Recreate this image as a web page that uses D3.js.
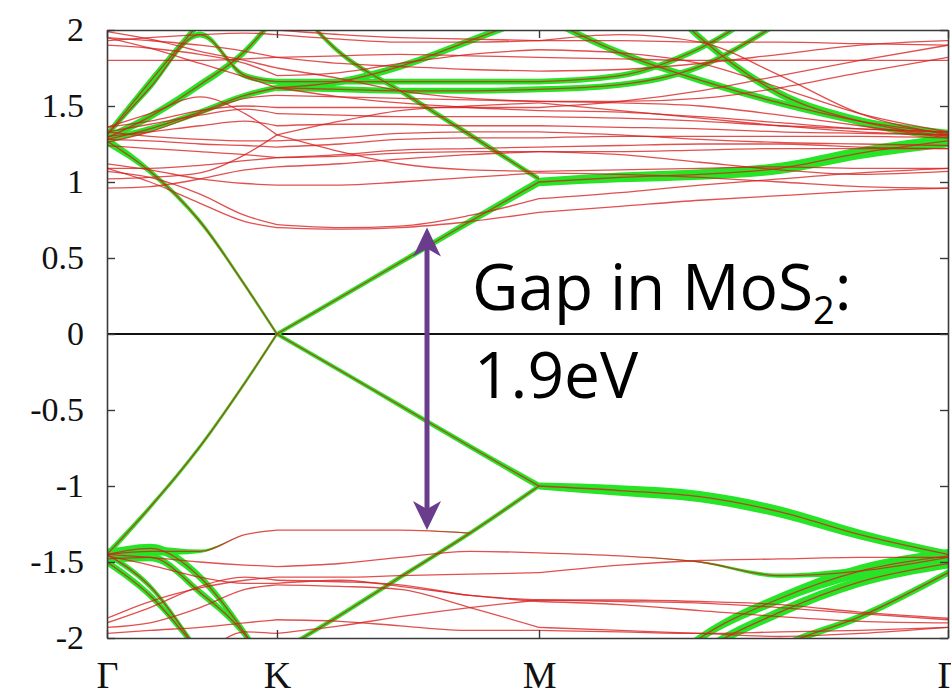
<!DOCTYPE html>
<html>
<head>
<meta charset="utf-8">
<script src="https://cdn.jsdelivr.net/npm/d3@7"></script>
<style>
  body { margin: 0; background: #fff; }
</style>
</head>
<body>
<div id="canvas"></div>
<script>
"use strict"

/* k-path sample points (fraction of the path) and high-symmetry points */
const kGrid = [0, 0.0511, 0.1106, 0.1641, 0.2021, 0.2771, 0.3484, 0.4316, 0.5137, 0.6100, 0.7051, 0.8002, 0.8954, 1.0];
const kTicks = [0, 0.2021, 0.5137, 1.0];
const kLabels = ["Γ", "K", "M", "Γ"];
const eTicks = [-2, -1.5, -1, -0.5, 0, 0.5, 1, 1.5, 2];
/* index ranges of the three path segments Γ-K, K-M, M-Γ */
const segments = [[0, 4], [4, 8], [8, 13]];

/* graphene-projected bands (energy in eV), with graphene weight */
const greenBands = [
    [1.27, 1.07, 0.74, 0.32, 0.0, 0.24, 0.47, 0.74, 1.0, 1.03, 1.05, 1.09, 1.19, 1.27],
    [-1.45, -1.14, -0.74, -0.32, 0.0, -0.24, -0.47, -0.74, -1.0, -1.03, -1.07, -1.17, -1.32, -1.45],
    [null, null, null, null, -2.1, -1.85, -1.60, -1.31, -1.0, null, null, null, null, null],
    [-1.45, -1.43, -1.43, -1.32, -1.29, -1.29, -1.29, -1.31, null, null, null, null, null, null],
    [-1.45, -1.41, -1.60, -1.97, -2.3, null, null, null, null, null, null, null, null, null],
    [-1.48, -1.47, -1.70, -1.98, -2.3, null, null, null, null, null, null, null, null, null],
    [-1.45, -1.66, -2.1, -2.5, -2.8, null, null, null, null, null, null, null, null, null],
    [-1.50, -1.72, -2.1, -2.5, -2.9, null, null, null, null, null, null, null, null, null],
    [null, null, null, null, null, null, null, null, -2.8, -2.45, -2.0, -1.74, -1.56, -1.46],
    [null, null, null, null, null, null, null, null, -2.9, -2.55, -2.1, -1.83, -1.63, -1.51],
    [null, null, null, null, null, null, null, null, -3.0, -2.8, -2.4, -2.06, -1.86, -1.57],
    [-1.45, -1.47, -1.50, -1.52, -1.53, -1.51, -1.47, -1.43, -1.44, -1.46, -1.50, -1.59, -1.56, -1.47],
    [1.31, 1.66, 2.05, 2.4, 2.8, null, null, null, null, 2.5, 1.95, 1.58, 1.40, 1.30],
    [1.29, 1.43, 1.64, 1.86, 2.1, 2.5, null, null, null, null, null, null, null, null],
    [null, null, null, null, 1.62, 1.66, 1.76, 1.93, 2.1, 1.85, 1.67, 1.52, 1.40, 1.32],
    [1.31, 1.62, 1.97, 1.70, 1.66, 1.66, 1.66, 1.66, 1.66, 1.70, 1.88, 2.2, 2.5, 2.8],
    [1.28, 1.35, 1.46, 1.57, 1.62, 1.61, 1.60, 1.60, 1.61, 1.64, 1.76, 2.05, 2.4, 2.8],
    [null, null, null, null, 2.3, 1.85, 1.60, 1.31, 1.02, null, null, null, null, null]
];
const greenWeights = [
    [0.7, 0.45, 0.38, 0.35, 0.32, 0.35, 0.4, 0.5, 0.6, 0.7, 0.75, 0.8, 0.85, 0.9],
    [0.55, 0.38, 0.35, 0.33, 0.32, 0.33, 0.35, 0.38, 0.5, 0.75, 0.8, 0.8, 0.7, 0.55],
    0.35,
    [0.85, 0.7, 0.25, 0, 0, 0, 0, 0.1, 0, 0, 0, 0, 0, 0],
    0.65,
    0.55,
    0.45,
    0.55,
    [0, 0, 0, 0, 0, 0, 0, 0, 0.4, 0.5, 0.6, 0.75, 0.9, 1.0],
    0.7,
    0.5,
    [0, 0, 0, 0, 0, 0, 0, 0, 0, 0, 0.1, 0.3, 0.6, 0.8],
    0.6,
    0.55,
    0.5,
    0.42,
    0.42,
    0.4
];

/* MoS2-like bands above the Dirac point */
const conductionBands = [
    [1.09, 1.00, 0.86, 0.74, 0.70, 0.69, 0.70, 0.74, 0.80, 0.84, 0.88, 0.91, 0.94, 0.96],
    [1.07, 1.03, 0.92, 0.78, 0.72, 0.70, 0.71, 0.78, 0.89, 0.93, 0.98, 1.02, 1.06, 1.09],
    [0.96, 0.97, 1.02, 1.08, 1.10, 1.12, 1.15, 1.18, 1.20, 1.18, 1.13, 1.08, 1.05, 1.07],
    [1.09, 1.09, 1.11, 1.14, 1.16, 1.18, 1.21, 1.22, 1.23, 1.24, 1.25, 1.25, 1.23, 1.22],
    [1.02, 1.03, 1.06, 1.18, 1.31, 1.40, 1.47, 1.50, 1.52, 1.47, 1.42, 1.37, 1.33, 1.31],
    [1.36, 1.45, 1.56, 1.45, 1.31, 1.20, 1.12, 1.08, 1.07, 1.08, 1.09, 1.10, 1.09, 1.09],
    [1.24, 1.22, 1.20, 1.18, 1.16, 1.17, 1.19, 1.20, 1.20, 1.20, 1.21, 1.22, 1.22, 1.22],
    [1.28, 1.27, 1.25, 1.24, 1.23, 1.25, 1.28, 1.29, 1.29, 1.30, 1.30, 1.30, 1.30, 1.29],
    [1.30, 1.33, 1.37, 1.40, 1.37, 1.38, 1.38, 1.37, 1.37, 1.36, 1.35, 1.33, 1.32, 1.31],
    [1.33, 1.38, 1.44, 1.48, 1.45, 1.44, 1.43, 1.43, 1.43, 1.42, 1.40, 1.37, 1.35, 1.33],
    [1.36, 1.40, 1.47, 1.50, 1.49, 1.49, 1.49, 1.49, 1.49, 1.53, 1.60, 1.70, 1.80, 1.90],
    [1.26, 1.33, 1.45, 1.55, 1.57, 1.56, 1.55, 1.54, 1.53, 1.53, 1.55, 1.62, 1.72, 1.82],
    [1.95, 1.88, 1.78, 1.69, 1.62, 1.56, 1.52, 1.49, 1.47, 1.46, 1.43, 1.39, 1.35, 1.33],
    [1.99, 1.94, 1.86, 1.80, 1.75, 1.68, 1.60, 1.55, 1.53, 1.52, 1.50, 1.44, 1.37, 1.29],
    [1.80, 1.80, 1.80, 1.81, 1.82, 1.83, 1.84, 1.83, 1.82, 1.81, 1.80, 1.80, 1.80, 1.80],
    [1.93, 1.95, 1.97, 1.98, 1.97, 1.94, 1.92, 1.92, 1.93, 1.93, 1.92, 1.92, 1.91, 1.90],
    [1.90, 1.88, 1.84, 1.78, 1.70, 1.72, 1.78, 1.84, 1.87, 1.85, 1.78, 1.62, 1.45, 1.33],
    [1.99, 2.05, 2.10, 2.10, 2.00, 1.97, 1.95, 1.94, 1.93, 1.97, 1.92, 1.70, 1.45, 1.31],
    [1.95, 1.93, 1.90, 1.86, 1.82, 1.78, 1.76, 1.74, 1.73, 1.74, 1.78, 1.84, 1.90, 1.93],
    [1.12, 1.08, 1.02, 0.99, 0.98, 0.98, 1.00, 1.03, 1.06, 1.05, 1.03, 1.00, 0.97, 0.96],
    [1.33, 1.30, 1.28, 1.27, 1.27, 1.29, 1.32, 1.33, 1.33, 1.31, 1.28, 1.26, 1.25, 1.24]
];

/* MoS2-like bands below the Dirac point */
const valenceBands = [
    [-1.87, -1.76, -1.67, -1.62, -1.60, -1.60, -1.59, -1.58, -1.57, -1.52, -1.49, -1.48, -1.47, -1.47],
    [-1.90, -1.80, -1.66, -1.60, -1.62, -1.63, -1.65, -1.72, -1.75, -1.76, -1.77, -1.80, -1.84, -1.88],
    [-1.93, -1.90, -1.80, -1.68, -1.65, -1.66, -1.68, -1.80, -1.93, -1.95, -1.97, -1.99, -1.97, -1.93],
    [-2.3, -2.2, -2.1, -1.96, -1.97, -1.92, -1.86, -1.80, -1.75, -1.75, -1.76, -1.78, -1.83, -1.87],
    [-1.46, -1.52, -1.60, -1.64, -1.64, -1.62, -1.66, -1.72, -1.76, -1.78, -1.82, -1.86, -1.89, -1.90],
    [-1.97, -1.95, -1.93, -1.90, -1.88, -1.89, -1.92, -1.95, -1.95, -1.96, -1.97, -1.96, -1.95, -1.93]
];

/* gap annotation: k position, top and bottom energy, label */
const gapArrow = { k: 0.3805, top: 0.70, bottom: -1.29 };
const gapLabel = ["Gap in MoS", "2", ":"];
const gapValue = "1.9eV";

/* ---------- drawing ---------- */
const svgWidth = 951, svgHeight = 700;
const plotLeft = 107, plotRight = 948, plotTop = 30, plotBottom = 638;

let svg = d3.select("#canvas")
    .append("svg")
    .attr("width", svgWidth)
    .attr("height", svgHeight);

let x = d3.scaleLinear().domain([0, 1]).range([plotLeft, plotRight]);
let y = d3.scaleLinear().domain([-2, 2]).range([plotBottom, plotTop]);
let halfWidth = d3.scaleLinear().domain([0, 1]).range([0, 7]).clamp(true);

let defs = svg.append("defs");
defs.append("clipPath").attr("id", "plotClip")
    .append("rect")
    .attr("x", plotLeft).attr("y", plotTop)
    .attr("width", plotRight - plotLeft).attr("height", plotBottom - plotTop);
defs.append("filter").attr("id", "soft")
    .append("feGaussianBlur").attr("stdDeviation", 0.7);

/* zero line */
svg.append("line")
    .attr("x1", plotLeft).attr("x2", plotRight)
    .attr("y1", y(0)).attr("y2", y(0))
    .attr("stroke", "#111")
    .attr("stroke-width", 2);

let plot = svg.append("g").attr("clip-path", "url(#plotClip)");
let greenLayer = plot.append("g").attr("filter", "url(#soft)");
let lineLayer = plot.append("g");

function toPoints(energies, weights) {
    return kGrid.map((k, i) => ({
        k: k,
        e: energies[i],
        w: typeof weights === "number" ? weights : weights[i]
    }));
}

let fatArea = d3.area()
    .defined(d => d.e !== null)
    .x(d => x(d.k))
    .y0(d => y(d.e) - halfWidth(d.w))
    .y1(d => y(d.e) + halfWidth(d.w))
    .curve(d3.curveMonotoneX);

let bandLine = d3.line()
    .defined(d => d.e !== null)
    .x(d => x(d.k))
    .y(d => y(d.e))
    .curve(d3.curveMonotoneX);

/* green (graphene weight) */
greenBands.forEach((band, b) => {
    let pts = toPoints(band, greenWeights[b]);
    segments.forEach(([a, z]) => {
        greenLayer.append("path")
            .attr("d", fatArea(pts.slice(a, z + 1)))
            .attr("fill", "#26e426");
    });
});

/* red band lines */
let allBands = greenBands.concat(conductionBands, valenceBands);
allBands.forEach(band => {
    let pts = toPoints(band, 0);
    segments.forEach(([a, z]) => {
        lineLayer.append("path")
            .attr("d", bandLine(pts.slice(a, z + 1)))
            .attr("fill", "none")
            .attr("stroke", "#d81e1e")
            .attr("stroke-opacity", 0.78)
            .attr("stroke-width", 1.3);
    });
});

/* axes / frame */
let axisFont = "'Liberation Serif', 'Times New Roman', serif";

let yLeft = svg.append("g")
    .attr("transform", `translate(${plotLeft},0)`)
    .call(d3.axisLeft(y).tickValues(eTicks)
        .tickSizeInner(-8).tickSizeOuter(0).tickPadding(23)
        .tickFormat(d => String(d)));

let yRight = svg.append("g")
    .attr("transform", `translate(${plotRight},0)`)
    .call(d3.axisRight(y).tickValues(eTicks)
        .tickSizeInner(-8).tickSizeOuter(0).tickFormat(""));

let xTop = svg.append("g")
    .attr("transform", `translate(0,${plotTop})`)
    .call(d3.axisTop(x).tickValues(kTicks)
        .tickSizeInner(-8).tickSizeOuter(0).tickFormat(""));

let xBottom = svg.append("g")
    .attr("transform", `translate(0,${plotBottom})`)
    .call(d3.axisBottom(x).tickValues(kTicks)
        .tickSizeInner(-8).tickSizeOuter(0).tickPadding(23)
        .tickFormat((d, i) => kLabels[i]));

[yLeft, yRight, xTop, xBottom].forEach(g => {
    g.select(".domain").attr("stroke", "#3a3a3a").attr("stroke-width", 1.6);
    g.selectAll(".tick line").attr("stroke", "#3a3a3a").attr("stroke-width", 1.4);
    g.selectAll(".tick text")
        .attr("font-family", axisFont)
        .attr("fill", "#111");
});
yLeft.selectAll(".tick text").attr("font-size", 34);
xBottom.selectAll(".tick text").attr("font-size", 38);

/* gap arrow */
let arrowColor = "#6a3d8c";
let ax = x(gapArrow.k);
let yTopTip = y(gapArrow.top);
let yBottomTip = y(gapArrow.bottom);

svg.append("line")
    .attr("x1", ax).attr("x2", ax)
    .attr("y1", yTopTip + 18).attr("y2", yBottomTip - 18)
    .attr("stroke", arrowColor)
    .attr("stroke-width", 5);

svg.append("path")
    .attr("d", `M${ax},${yTopTip} L${ax + 14},${yTopTip + 29} L${ax},${yTopTip + 21} L${ax - 14},${yTopTip + 29} Z`)
    .attr("fill", arrowColor);

svg.append("path")
    .attr("d", `M${ax},${yBottomTip} L${ax + 14},${yBottomTip - 29} L${ax},${yBottomTip - 21} L${ax - 14},${yBottomTip - 29} Z`)
    .attr("fill", arrowColor);

/* gap text */
let labelFont = "'Open Sans', 'Noto Sans', sans-serif";

let gapText = svg.append("text")
    .attr("x", 472)
    .attr("y", 310)
    .attr("font-family", labelFont)
    .attr("font-size", 64)
    .attr("fill", "#000");
gapText.append("tspan").text(gapLabel[0]);
gapText.append("tspan").attr("font-size", 38).attr("dy", 14).text(gapLabel[1]);
gapText.append("tspan").attr("dy", -14).text(gapLabel[2]);

svg.append("text")
    .attr("x", 474)
    .attr("y", 398)
    .attr("font-family", labelFont)
    .attr("font-size", 64)
    .attr("fill", "#000")
    .text(gapValue);
</script>
</body>
</html>
